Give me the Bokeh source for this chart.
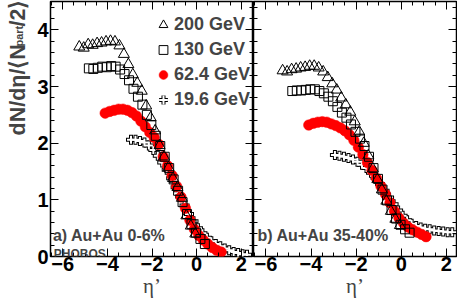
import numpy as np
from bokeh.plotting import figure
from bokeh.models import (Range1d, LinearAxis, Label, Legend, LegendItem,
                          SingleIntervalTicker)
from bokeh.layouts import gridplot
from bokeh.embed import file_html
from bokeh.resources import INLINE

# ---------------- data ----------------
energies = ["200 GeV", "130 GeV", "62.4 GeV", "19.6 GeV"]
panel_titles = ["a) Au+Au 0-6%", "b) Au+Au 35-40%"]

eta_200 = [-5.26, -5.06, -4.86, -4.66, -4.46, -4.26, -4.06, -3.86, -3.66, -3.46,
           -3.26, -3.06, -2.86, -2.66, -2.46, -2.26, -2.06, -1.86, -1.66, -1.46,
           -1.26, -1.06, -0.86, -0.66, -0.46, -0.26, -0.06]
eta_130 = [-4.83, -4.63, -4.43, -4.23, -4.03, -3.83, -3.63, -3.43, -3.23, -3.03,
           -2.83, -2.63, -2.43, -2.23, -2.03, -1.83, -1.63, -1.43, -1.23, -1.03,
           -0.83, -0.63, -0.43, -0.23, -0.03, 0.17, 0.37]
eta_62 = [-4.10, -3.90, -3.70, -3.50, -3.30, -3.10, -2.90, -2.70, -2.50, -2.30,
          -2.10, -1.90, -1.70, -1.50, -1.30, -1.10, -0.90, -0.70, -0.50, -0.30,
          -0.10, 0.10, 0.30, 0.50, 0.70, 0.90, 1.10]
eta_19 = [-2.94, -2.74, -2.54, -2.34, -2.14, -1.94, -1.74, -1.54, -1.34, -1.14,
          -0.94, -0.74, -0.54, -0.34, -0.14, 0.06, 0.26, 0.46, 0.66, 0.86,
          1.06, 1.26, 1.46, 1.66, 1.86, 2.06, 2.26]

# central 0-6%
c_200 = [3.70, 3.68, 3.74, 3.73, 3.76, 3.77, 3.79, 3.80, 3.79, 3.72,
         3.57, 3.39, 3.21, 3.06, 2.92, 2.66, 2.45, 2.22, 1.96, 1.76,
         1.57, 1.38, 1.22, 1.03, 0.72, 0.54, 0.40]
c_130 = [3.32, 3.31, 3.33, 3.35, 3.34, 3.36, 3.35, 3.30, 3.22, 3.11,
         2.96, 2.82, 2.68, 2.50, 2.32, 2.13, 1.95, 1.76, 1.56, 1.36,
         1.16, 0.96, 0.75, 0.57, 0.42, 0.31, 0.22]
c_62 = [2.53, 2.56, 2.58, 2.60, 2.60, 2.58, 2.54, 2.48, 2.39, 2.29,
        2.19, 2.10, 1.98, 1.76, 1.60, 1.43, 1.24, 1.05, 0.85, 0.64,
        0.48, 0.37, 0.29, 0.22, 0.16, 0.11, 0.08]
c_19 = [2.06, 2.06, 2.04, 2.01, 1.96, 1.88, 1.78, 1.66, 1.53, 1.38,
        1.22, 1.06, 0.90, 0.75, 0.62, 0.50, 0.41, 0.33, 0.27, 0.22,
        0.18, 0.14, 0.11, 0.08, 0.06, 0.04, 0.03]

# peripheral 35-40%
p_200 = [3.28, 3.26, 3.30, 3.31, 3.33, 3.34, 3.36, 3.36, 3.33, 3.26,
         3.16, 3.05, 2.94, 2.80, 2.68, 2.55, 2.38, 2.20, 2.00, 1.78,
         1.55, 1.36, 1.18, 0.98, 0.80, 0.66, 0.55]
p_130 = [2.92, 2.93, 2.93, 2.94, 2.95, 2.95, 2.92, 2.88, 2.82, 2.74,
         2.64, 2.54, 2.45, 2.33, 2.20, 2.08, 1.95, 1.76, 1.56, 1.37,
         1.18, 0.99, 0.82, 0.67, 0.56, 0.48, 0.42]
p_62 = [2.32, 2.35, 2.37, 2.38, 2.37, 2.34, 2.31, 2.27, 2.22, 2.15,
        2.05, 1.93, 1.80, 1.66, 1.52, 1.38, 1.24, 1.10, 0.95, 0.80,
        0.68, 0.59, 0.52, 0.47, 0.43, 0.39, 0.35]
p_19 = [1.79, 1.78, 1.76, 1.74, 1.71, 1.67, 1.62, 1.56, 1.48, 1.39,
        1.28, 1.16, 1.04, 0.92, 0.81, 0.72, 0.64, 0.58, 0.54, 0.51,
        0.49, 0.48, 0.46, 0.45, 0.44, 0.43, 0.43]

# ---------------- styling ----------------
FONT = "Liberation Sans"
H = 303
TW = 32   # width of the strip that carries the y-axis title


def style_axis(ax, labels, standoff=2):
    ax.major_tick_in = 8
    ax.major_tick_out = 0
    ax.minor_tick_in = 4
    ax.minor_tick_out = 0
    ax.axis_line_color = None
    ax.major_tick_line_color = "black"
    ax.minor_tick_line_color = "black"
    ax.major_tick_line_width = 1
    ax.minor_tick_line_width = 1
    if labels:
        ax.major_label_text_font = FONT
        ax.major_label_text_font_style = "bold"
        ax.major_label_text_font_size = "20px"
        ax.major_label_text_color = "black"
        ax.major_label_standoff = standoff
    else:
        ax.major_label_text_font_size = "1px"
        ax.major_label_text_alpha = 0
        ax.major_label_text_color = None
        ax.major_label_standoff = 0


def make_panel(width, xr, left_labels, mb_left, mb_right):
    p = figure(width=width, height=H, x_range=Range1d(*xr), y_range=Range1d(0, 4.5),
               output_backend="svg", toolbar_location=None,
               x_axis_type=None, y_axis_type=None,
               min_border_left=mb_left, min_border_right=mb_right,
               min_border_top=1, min_border_bottom=47)
    p.outline_line_color = "black"
    p.outline_line_width = 1.5
    p.background_fill_color = "white"
    p.border_fill_color = "white"
    xb = LinearAxis(ticker=SingleIntervalTicker(interval=2, num_minor_ticks=4))
    style_axis(xb, True, standoff=0)
    xb.axis_label = "\u03b7\u2019"
    xb.axis_label_text_font = "Liberation Serif"
    xb.axis_label_text_font_style = "normal"
    xb.axis_label_text_font_size = "21px"
    xb.axis_label_standoff = 0
    p.add_layout(xb, "below")
    xt = LinearAxis(ticker=SingleIntervalTicker(interval=2, num_minor_ticks=4))
    style_axis(xt, False)
    p.add_layout(xt, "above")
    for place, lab in (("left", left_labels), ("right", False)):
        ax = LinearAxis(ticker=SingleIntervalTicker(interval=1, num_minor_ticks=5))
        style_axis(ax, lab, standoff=2)
        p.add_layout(ax, place)
    return p


def draw_series(p, y200, y130, y62, y19):
    rc1 = p.scatter(eta_19, y19, marker="cross", size=10, line_color="black",
                    line_width=4)
    rc2 = p.scatter(eta_19, y19, marker="cross", size=8, line_color="white",
                    line_width=2)
    rci = p.scatter(eta_62, y62, marker="circle", size=10.5, fill_color="#ff0000",
                    line_color="#ff0000", line_width=0.5)
    rsq = p.scatter(eta_130, y130, marker="square", size=9, fill_alpha=0,
                    line_color="black", line_width=1)
    rtr = p.scatter(eta_200, y200, marker="triangle", size=11, fill_alpha=0,
                    line_color="black", line_width=1)
    return rtr, rsq, rci, [rc1, rc2]


# strip holding the rotated y-axis title; its frame is aligned with the
# panels' frames (page y 1..256), so y = -page_y in pixels
pt = figure(width=TW, height=H, x_range=Range1d(0, TW), y_range=Range1d(-256, -1),
            output_backend="svg", toolbar_location=None, title=None,
            x_axis_type=None, y_axis_type=None,
            min_border_left=0, min_border_right=0, min_border_top=1,
            min_border_bottom=47)
pt.outline_line_color = None
pt.background_fill_color = "white"
pt.border_fill_color = "white"
ypieces = [("dN/d\u03b7/\u27e8N", 17.5, -135, "21.5px"),
           ("part", 18.5, -46, "11px"),
           ("/2\u27e9", 17.5, -26, "21.5px")]
for txt, xx, yy, fs in ypieces:
    pt.add_layout(Label(x=xx, y=yy, angle=np.pi / 2, text=txt,
                        text_font=FONT, text_font_style="bold", text_font_size=fs,
                        text_align="left", text_baseline="alphabetic"))

p1 = make_panel(253 - TW, (-6.55, 2.55), True, 50 - TW, 0)
p2 = make_panel(204, (-6.55, 2.45), False, 0, 1)

rtr, rsq, rci, rcr = draw_series(p1, c_200, c_130, c_62, c_19)
draw_series(p2, p_200, p_130, p_62, p_19)

legend = Legend(items=[LegendItem(label=energies[0], renderers=[rtr]),
                       LegendItem(label=energies[1], renderers=[rsq]),
                       LegendItem(label=energies[2], renderers=[rci]),
                       LegendItem(label=energies[3], renderers=rcr)],
                location=(102, 144), glyph_width=22, glyph_height=25,
                label_height=25, spacing=0, padding=0, margin=0,
                label_standoff=0, border_line_color=None,
                background_fill_alpha=0, label_text_font=FONT,
                label_text_font_style="bold", label_text_font_size="18px")
p1.add_layout(legend)

# panel annotations
p1.add_layout(Label(x=-6.44, y=0.37, text=panel_titles[0], text_font=FONT,
                    text_font_style="bold", text_font_size="16px",
                    text_baseline="alphabetic"))
p1.add_layout(Label(x=-6.40, y=0.05, text="PHOBOS", text_font=FONT,
                    text_font_style="bold", text_font_size="12px",
                    text_baseline="alphabetic"))
p2.add_layout(Label(x=-6.37, y=0.37, text=panel_titles[1], text_font=FONT,
                    text_font_style="bold", text_font_size="16px",
                    text_baseline="alphabetic"))

grid = gridplot([[pt, p1, p2]], toolbar_location=None)
open("out.html", "w").write(file_html(grid, INLINE))
